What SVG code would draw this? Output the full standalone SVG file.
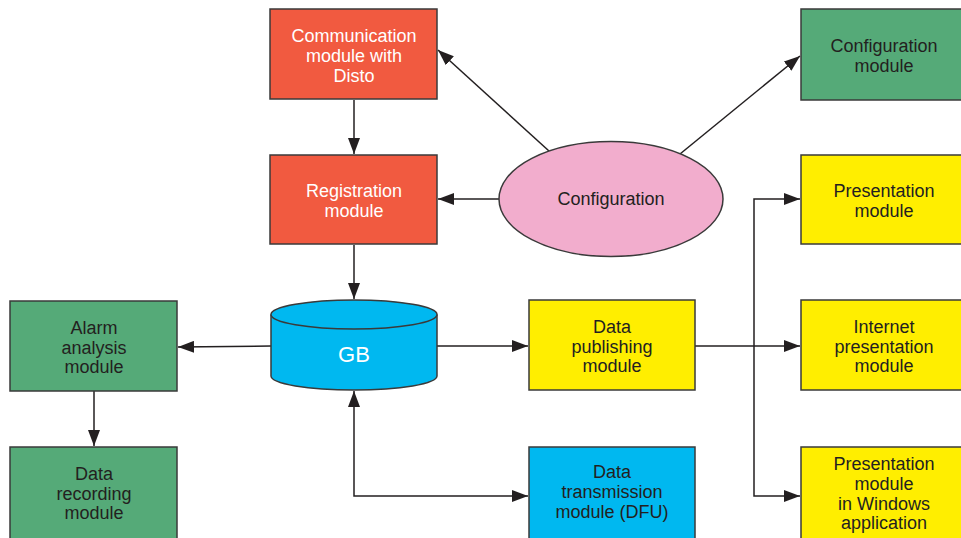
<svg xmlns="http://www.w3.org/2000/svg" width="961" height="538" viewBox="0 0 961 538">
  <style>
    .box { stroke: #3a3a3a; stroke-width: 1.5; }
    .red { fill: #F15A40; }
    .green { fill: #55AA78; }
    .yellow { fill: #FFEE00; }
    .blue { fill: #00B8F0; }
    .pink { fill: #F2ADCD; }
    .lbl { font-family: "Liberation Sans Narrow", "Liberation Sans", Arial, sans-serif; font-size: 18px; text-anchor: middle; fill: #231F20; }
    .lbl.w { fill: #ffffff; }
    .edge { fill: none; stroke: #231F20; stroke-width: 1.5; }
  </style>
  <defs>
    <marker id="arrow" viewBox="0 0 16 12" refX="16" refY="6" markerWidth="16" markerHeight="12" markerUnits="userSpaceOnUse" orient="auto-start-reverse">
      <path d="M0,0 L16,6 L0,12 Z" fill="#231F20"/>
    </marker>
  </defs>

  <g id="connectors">
    <line class="edge" x1="354" y1="100" x2="354" y2="154" marker-end="url(#arrow)"/>
    <line class="edge" x1="499" y1="199" x2="438" y2="199" marker-end="url(#arrow)"/>
    <line class="edge" x1="549" y1="151" x2="438" y2="50" marker-end="url(#arrow)"/>
    <line class="edge" x1="680" y1="154" x2="800" y2="56" marker-end="url(#arrow)"/>
    <line class="edge" x1="354" y1="245" x2="354" y2="299" marker-end="url(#arrow)"/>
    <line class="edge" x1="271" y1="346" x2="178" y2="347" marker-end="url(#arrow)"/>
    <line class="edge" x1="437" y1="346" x2="528" y2="346" marker-end="url(#arrow)"/>
    <line class="edge" x1="94" y1="391" x2="94" y2="446" marker-end="url(#arrow)"/>
    <polyline class="edge" points="354,391 354,496 528,496" marker-start="url(#arrow)" marker-end="url(#arrow)"/>
    <line class="edge" x1="695" y1="346" x2="800" y2="346" marker-end="url(#arrow)"/>
    <polyline class="edge" points="800,199 754,199 754,496 800,496" marker-start="url(#arrow)" marker-end="url(#arrow)"/>
  </g>

  <g id="communication">
    <rect class="box red" x="270" y="9" width="167" height="90"/>
    <text class="lbl w" x="354" y="42">Communication</text>
    <text class="lbl w" x="354" y="62">module with</text>
    <text class="lbl w" x="354" y="82">Disto</text>
  </g>

  <g id="registration">
    <rect class="box red" x="270" y="155" width="167" height="89"/>
    <text class="lbl w" x="354" y="197">Registration</text>
    <text class="lbl w" x="354" y="217">module</text>
  </g>

  <g id="configuration">
    <ellipse class="box pink" cx="611" cy="199" rx="112" ry="57.5"/>
    <text class="lbl" x="611" y="205">Configuration</text>
  </g>

  <g id="gb">
    <path class="box blue" d="M271,314.5 L271,376 A83,14 0 0 0 437,376 L437,314.5"/>
    <ellipse class="box blue" cx="354" cy="314.5" rx="83" ry="14.5"/>
    <text class="lbl w" x="354" y="362" style="font-size:22px">GB</text>
  </g>

  <g id="config-module">
    <rect class="box green" x="801" y="9" width="170" height="91"/>
    <text class="lbl" x="884" y="52">Configuration</text>
    <text class="lbl" x="884" y="72">module</text>
  </g>

  <g id="presentation">
    <rect class="box yellow" x="801" y="155" width="170" height="89"/>
    <text class="lbl" x="884" y="197">Presentation</text>
    <text class="lbl" x="884" y="217">module</text>
  </g>

  <g id="internet">
    <rect class="box yellow" x="801" y="300" width="170" height="90"/>
    <text class="lbl" x="884" y="333">Internet</text>
    <text class="lbl" x="884" y="353">presentation</text>
    <text class="lbl" x="884" y="372">module</text>
  </g>

  <g id="windows">
    <rect class="box yellow" x="801" y="447" width="170" height="100"/>
    <text class="lbl" x="884" y="470">Presentation</text>
    <text class="lbl" x="884" y="490">module</text>
    <text class="lbl" x="884" y="510">in Windows</text>
    <text class="lbl" x="884" y="529">application</text>
  </g>

  <g id="publishing">
    <rect class="box yellow" x="529" y="300" width="166" height="90"/>
    <text class="lbl" x="612" y="333">Data</text>
    <text class="lbl" x="612" y="353">publishing</text>
    <text class="lbl" x="612" y="372">module</text>
  </g>

  <g id="transmission">
    <rect class="box blue" x="529" y="447" width="166" height="100"/>
    <text class="lbl" x="612" y="478">Data</text>
    <text class="lbl" x="612" y="498">transmission</text>
    <text class="lbl" x="612" y="518">module (DFU)</text>
  </g>

  <g id="alarm">
    <rect class="box green" x="10" y="301" width="167" height="90"/>
    <text class="lbl" x="94" y="334">Alarm</text>
    <text class="lbl" x="94" y="354">analysis</text>
    <text class="lbl" x="94" y="373">module</text>
  </g>

  <g id="recording">
    <rect class="box green" x="10" y="447" width="167" height="100"/>
    <text class="lbl" x="94" y="480">Data</text>
    <text class="lbl" x="94" y="500">recording</text>
    <text class="lbl" x="94" y="519">module</text>
  </g>
</svg>
